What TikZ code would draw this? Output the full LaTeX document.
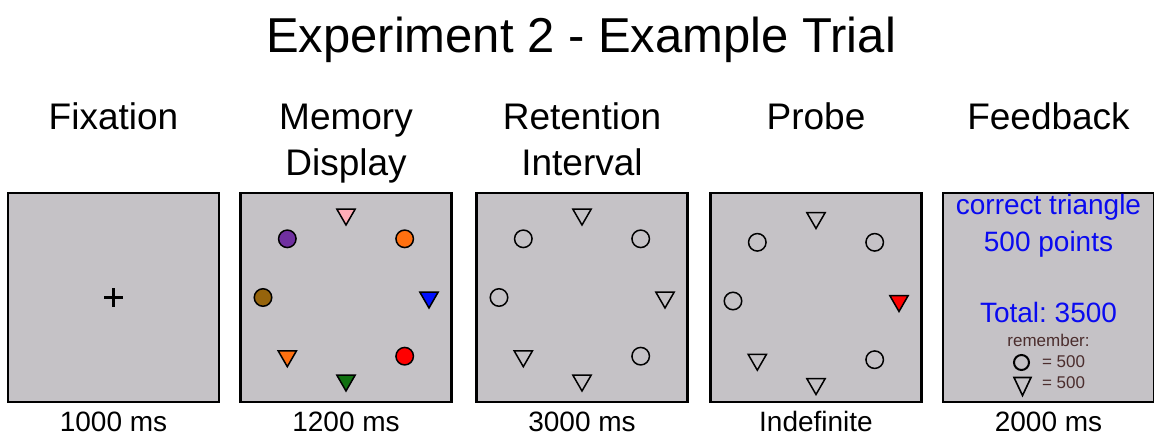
\documentclass[tikz,border=0pt]{standalone}
\usepackage{fontspec}
\setmainfont{Liberation Sans}
\usetikzlibrary{positioning}
\usetikzlibrary{shapes.geometric}
\usetikzlibrary{calc}
\frenchspacing
\definecolor{screen}{RGB}{197,194,198}
\definecolor{pinktri}{RGB}{255,172,182}
\definecolor{purplecirc}{RGB}{112,48,160}
\definecolor{orangeshape}{RGB}{255,112,16}
\definecolor{browncirc}{RGB}{150,100,12}
\definecolor{bluetri}{RGB}{0,16,255}
\definecolor{redshape}{RGB}{255,0,0}
\definecolor{greentri}{RGB}{16,112,16}
\definecolor{feedblue}{RGB}{10,10,240}
\definecolor{remind}{RGB}{75,45,45}
\newcommand{\titlesize}{\fontsize{49}{55}\selectfont}
\newcommand{\headsize}{\fontsize{37}{46}\selectfont}
\newcommand{\labelsize}{\fontsize{28}{34}\selectfont}
\newcommand{\smallsize}{\fontsize{17}{21}\selectfont}
\tikzset{panel/.style = {draw, line width=2.5pt, fill=screen, minimum width=211pt, minimum height=209pt, inner sep=0}}
\tikzset{circ/.style = {draw, circle, line width=1.5pt, inner sep=0, minimum size=17.5pt}}
\tikzset{tri/.style = {draw, regular polygon, regular polygon sides=3, shape border rotate=180, line width=1.5pt, inner sep=0, minimum size=21pt}}
\tikzset{head/.style = {font=\headsize, align=center, anchor=base}}
\tikzset{dur/.style = {font=\labelsize, anchor=base, inner sep=1pt}}
\tikzset{feed/.style = {font=\labelsize, text=feedblue, anchor=base}}

\begin{document}
\begin{tikzpicture}[x=1pt, y=1pt]
  \useasboundingbox (0,0) rectangle (1154,436);

  \node [font=\titlesize, anchor=base] (title) at (581, 383) {Experiment 2 - Example Trial};

  % screens
  \node [panel] (fix) at (113.5, 138.5) {};
  \node [panel] (mem) at (346, 138.5) {};
  \node [panel] (ret) at (582, 138.5) {};
  \node [panel] (probe) at (816, 138.5) {};
  \node [panel] (feedback) at (1048.5, 138.5) {};

  \node [head] (fixhead) at (113.5, 306) {Fixation};
  \node [head] (memhead) at (346, 260) {Memory\\Display};
  \node [head] (rethead) at (582, 260) {Retention\\Interval};
  \node [head] (probehead) at (816, 306) {Probe};
  \node [head] (feedhead) at (1048.5, 306) {Feedback};

  \node [dur] (fixdur) at (113.5, 4) {1000 ms};
  \node [dur] (memdur) at (346, 4) {1200 ms};
  \node [dur] (retdur) at (582, 4) {3000 ms};
  \node [dur] (probedur) at (816, 4) {Indefinite};
  \node [dur] (feeddur) at (1048.5, 4) {2000 ms};

  % fixation cross
  \draw [line width=3.2pt] ($(fix)+(-9.5,0)$) -- ($(fix)+(9.5,0)$);
  \draw [line width=3.2pt] ($(fix)+(0,-9.5)$) -- ($(fix)+(0,9.5)$);

  % memory display
  \foreach \ang/\shp/\col [count=\i] in {90/tri/pinktri, 45/circ/orangeshape, 0/tri/bluetri,
      -45/circ/redshape, -90/tri/greentri, -135/tri/orangeshape, 180/circ/browncirc, 135/circ/purplecirc}
    \node [\shp, fill=\col] (mem\i) at ($(mem)+(\ang:83)$) {};

  % retention interval
  \foreach \ang/\shp [count=\i] in {90/tri, 45/circ, 0/tri, -45/circ, -90/tri, -135/tri, 180/circ, 135/circ}
    \node [\shp] (ret\i) at ($(ret)+(\ang:83)$) {};

  % probe
  \coordinate (probemid) at ($(probe)+(0,-3.5)$);
  \foreach \ang/\shp/\col [count=\i] in {90/tri/screen, 45/circ/screen, 0/tri/redshape,
      -45/circ/screen, -90/tri/screen, -135/tri/screen, 180/circ/screen, 135/circ/screen}
    \node [\shp, fill=\col] (probe\i) at ($(probemid)+(\ang:83)$) {};

  % feedback
  \node [feed] (correct) at (1048.5, 221) {correct triangle};
  \node [feed] (points) at (1048.5, 184) {500 points};
  \node [feed] (total) at (1048.5, 113) {Total: 3500};
  \node [font=\smallsize, text=remind, anchor=base] (remember) at (1048.5, 89) {remember:};
  \node [font=\smallsize, text=remind, anchor=base] (circval) at (1063.5, 68) {= 500};
  \node [font=\smallsize, text=remind, anchor=base] (trival) at (1063.5, 47) {= 500};
  \node [draw, circle, line width=2pt, inner sep=0, minimum size=15pt] (circkey) at (1021.5, 73.5) {};
  \draw [line width=1.6pt, line join=miter] (1014, 58.5) -- (1031, 58.5) -- (1022.5, 40.5) -- cycle;

\end{tikzpicture}
\end{document}
